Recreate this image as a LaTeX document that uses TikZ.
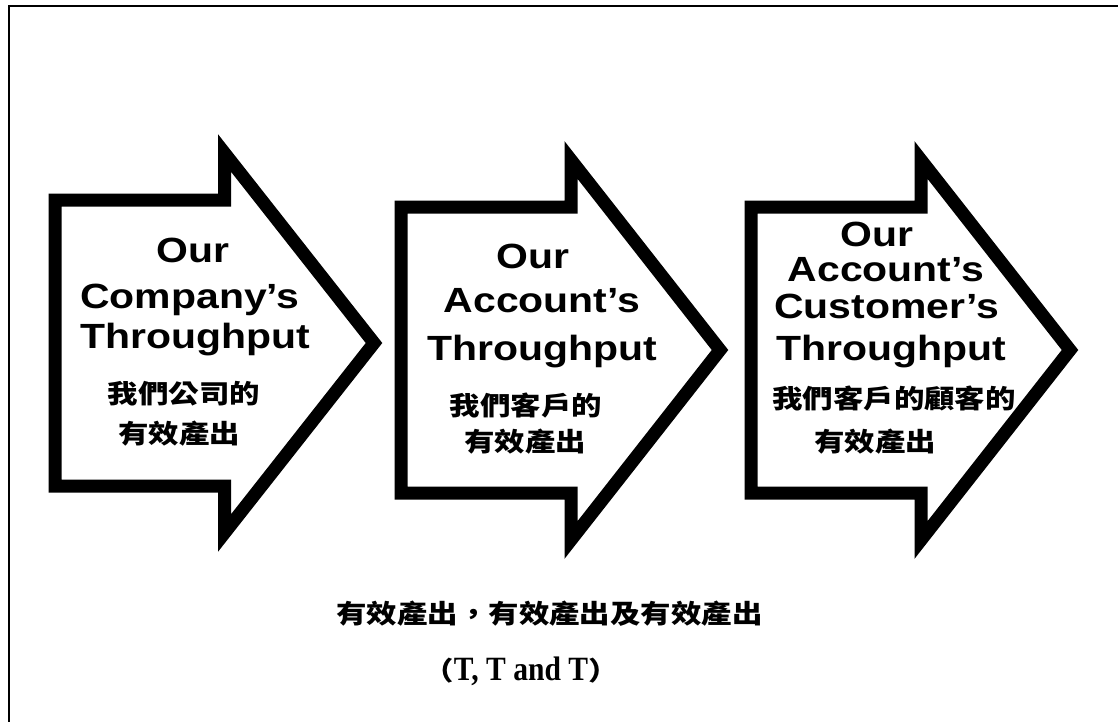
\documentclass[tikz,border=0pt]{standalone}
\usepackage{fontspec}
\setmainfont{Liberation Sans}
\newfontfamily\cjk{Noto Sans CJK TC}
\newfontfamily\serifx{Liberation Serif}
\newcommand\sx[1]{\scalebox{1.17}[1]{#1}}
\newcommand\blockarrowpath[4]{%
  \draw[blockarrow] ({#1},{#4-143}) -- ({#2},{#4-143}) -- ({#2},{#4-190}) -- ({#3},{#4}) --
    ({#2},{#4+190}) -- ({#2},{#4+143}) -- ({#1},{#4+143}) -- cycle;}
\tikzset{
  blockarrow/.style={draw=black, line width=13pt, fill=white, line join=miter},
  entxt/.style={anchor=base, inner sep=0pt, font=\fontsize{35}{35}\selectfont\bfseries},
  cntxt/.style={anchor=base, inner sep=0pt, font=\fontsize{26}{26}\selectfont\cjk\bfseries},
  frame/.style={draw=black},
}
\begin{document}
\begin{tikzpicture}[x=1pt,y=-1pt]
\useasboundingbox (0,0) rectangle (1118,722);
\draw[frame, line width=2.5pt] (9,722) -- (9,6);
\draw[frame, line width=1.8pt] (8,6) -- (1118,6);
% arrows
\blockarrowpath{55}{224.5}{374}{343}
\blockarrowpath{401}{571}{720}{350}
\blockarrowpath{751}{921}{1070}{350}
% arrow 1 text
\node[entxt] (a1l1) at (193,262) {\sx{Our}};
\node[entxt] (a1l2) at (190,308) {\sx{Company’s}};
\node[entxt] (a1l3) at (195,348) {\sx{Throughput}};
\node[cntxt] (a1c1) at (184,403) {\sx{我們公司的}};
\node[cntxt] (a1c2) at (179,443) {\sx{有效產出}};
% arrow 2 text
\node[entxt] (a2l1) at (533,268) {\sx{Our}};
\node[entxt] (a2l2) at (542,312) {\sx{Account’s}};
\node[entxt] (a2l3) at (542,360) {\sx{Throughput}};
\node[cntxt] (a2c1) at (526,415) {\sx{我們客戶的}};
\node[cntxt] (a2c2) at (525,451) {\sx{有效產出}};
% arrow 3 text
\node[entxt] (a3l1) at (877,246) {\sx{Our}};
\node[entxt] (a3l2) at (886,281) {\sx{Account’s}};
\node[entxt] (a3l3) at (887,318) {\sx{Customer’s}};
\node[entxt] (a3l4) at (891,360) {\sx{Throughput}};
\node[cntxt] (a3c1) at (894,408) {\sx{我們客戶的顧客的}};
\node[cntxt] (a3c2) at (875,451) {\sx{有效產出}};
% bottom text
\node[cntxt] (sum) at (549.5,623) {\sx{有效產出，有效產出及有效產出}};
\node[anchor=base, inner sep=0pt, font=\fontsize{26}{26}\selectfont\bfseries] (tt) at (521,680)
  {\sx{\cjk （}\scalebox{0.87}[1]{\fontsize{34}{34}\selectfont\serifx\bfseries T, T and T}\sx{\cjk ）}};
\end{tikzpicture}
\end{document}
